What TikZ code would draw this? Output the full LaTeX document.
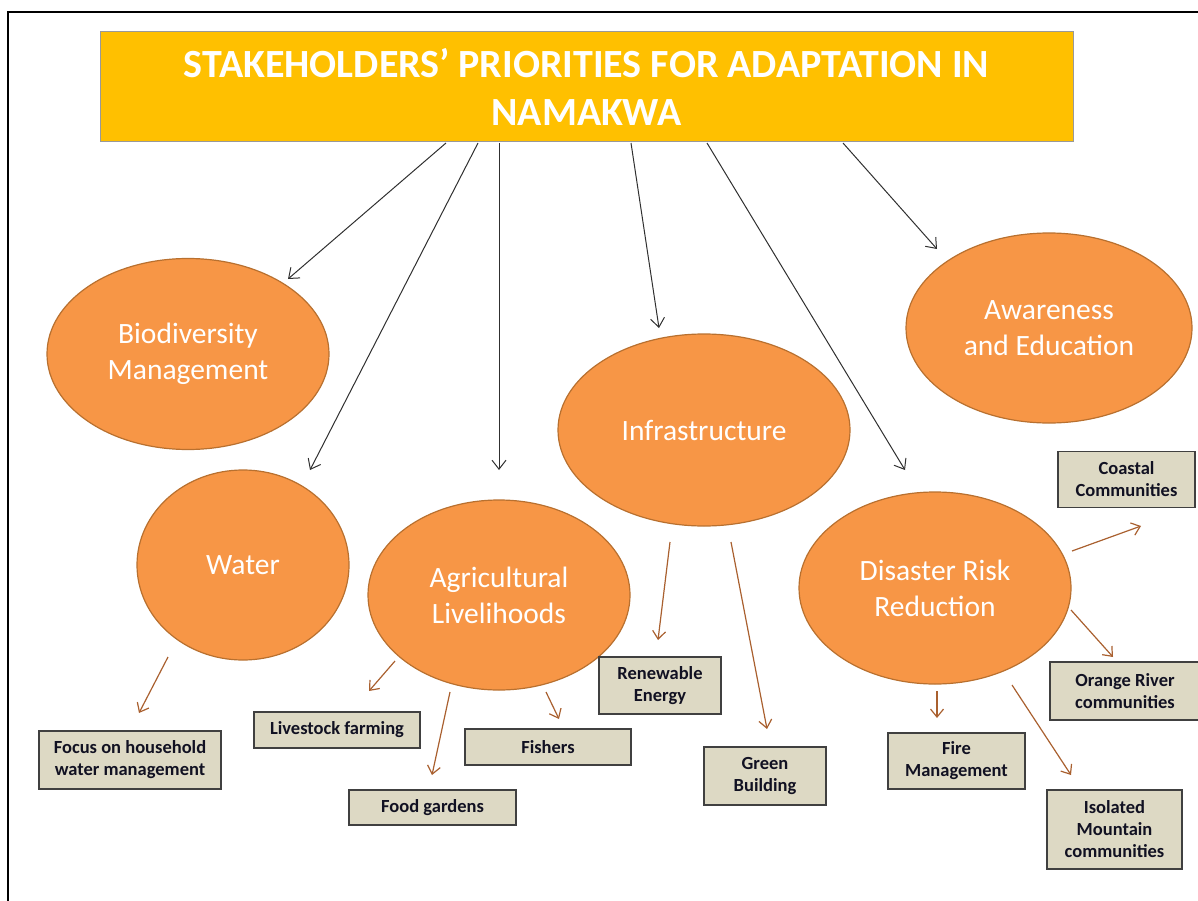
\documentclass[tikz,border=0pt]{standalone}
\usepackage{fontspec}
\setmainfont{Carlito}
\usetikzlibrary{arrows.meta,shapes.geometric}
\definecolor{titlefill}{HTML}{FFC000}
\definecolor{ellfill}{HTML}{F79646}
\definecolor{elldraw}{HTML}{B8702F}
\definecolor{boxfill}{HTML}{DDD9C4}
\definecolor{boxdraw}{HTML}{404040}
\definecolor{brownarrow}{HTML}{A9602F}
\definecolor{darkline}{HTML}{303030}
\definecolor{boxtext}{HTML}{111122}
\tikzset{
  titlebox/.style={draw=gray!80, line width=1pt, fill=titlefill, minimum width=973pt, minimum height=110pt, inner sep=0pt,
    font=\fontsize{40}{48}\selectfont\bfseries, text=white, align=center},
  topic/.style={ellipse, draw=elldraw, line width=1.2pt, fill=ellfill, inner sep=0pt,
    font=\fontsize{29.5}{36}\selectfont, text=white, align=center},
  leaf/.style={draw=boxdraw, line width=1.2pt, fill=boxfill, inner sep=0pt,
    font=\fontsize{18.5}{22}\selectfont\bfseries, text=boxtext, align=center},
  mainarrow/.style={draw=darkline, line width=1pt, -{Straight Barb[length=9pt,width=14pt,line width=1pt]}},
  subarrow/.style={draw=brownarrow, line width=1.2pt, -{Straight Barb[length=8pt,width=13pt,line width=1.2pt]}},
}
\begin{document}
\begin{tikzpicture}[x=1pt,y=-1pt]
\useasboundingbox (0,0) rectangle (1198,901);
% frame
\draw[line width=1.8pt] (8,901) -- (8,12) -- (1198,12);
% title
\node[titlebox] (title) at (586.5,87) {STAKEHOLDERS’ PRIORITIES FOR ADAPTATION IN\\NAMAKWA};
% topics
\node[topic, minimum width=282pt, minimum height=191pt] (bio) at (188,354) {Biodiversity\\Management};
\node[topic, minimum width=212pt, minimum height=190pt] (water) at (243,565) {Water};
\node[topic, minimum width=262pt, minimum height=190pt] (agri) at (499,595) {Agricultural\\Livelihoods};
\node[topic, minimum width=292pt, minimum height=192pt] (infra) at (704,430) {Infrastructure};
\node[topic, minimum width=286pt, minimum height=190pt] (aware) at (1049,328) {Awareness\\and Education};
\node[topic, minimum width=272pt, minimum height=192pt] (drr) at (935,588) {Disaster Risk\\Reduction};
% leaves
\node[leaf, minimum width=182pt, minimum height=58pt] (house) at (130,760) {Focus on household\\water management};
\node[leaf, minimum width=166pt, minimum height=36pt] (live) at (337,730) {Livestock farming};
\node[leaf, minimum width=167pt, minimum height=35pt] (food) at (432.5,807.5) {Food gardens};
\node[leaf, minimum width=166pt, minimum height=36pt] (fish) at (548,747) {Fishers};
\node[leaf, minimum width=122pt, minimum height=57pt] (renew) at (660,685.5) {Renewable\\Energy};
\node[leaf, minimum width=122pt, minimum height=58pt] (green) at (765,776) {Green\\Building};
\node[leaf, minimum width=137pt, minimum height=56pt] (fire) at (956.5,761) {Fire\\Management};
\node[leaf, minimum width=137pt, minimum height=56pt] (coast) at (1126.5,479.5) {Coastal\\Communities};
\node[leaf, minimum width=150pt, minimum height=58pt] (orange) at (1125,691) {Orange River\\communities};
\node[leaf, minimum width=135pt, minimum height=79pt] (iso) at (1114.5,829.5) {Isolated\\Mountain\\communities};
% arrow end points
\coordinate (t1) at (446,143); \coordinate (e1) at (288,279);
\coordinate (t2) at (478,143); \coordinate (e2) at (310,470);
\coordinate (t3) at (499,143); \coordinate (e3) at (499,470);
\coordinate (t4) at (631,143); \coordinate (e4) at (659,328);
\coordinate (t5) at (707,143); \coordinate (e5) at (905,470);
\coordinate (t6) at (843,143); \coordinate (e6) at (937,249);
\draw[mainarrow] (t1) -- (e1);
\draw[mainarrow] (t2) -- (e2);
\draw[mainarrow] (t3) -- (e3);
\draw[mainarrow] (t4) -- (e4);
\draw[mainarrow] (t5) -- (e5);
\draw[mainarrow] (t6) -- (e6);
% sub arrows
\coordinate (w1) at (168,657); \coordinate (w2) at (139,713);
\coordinate (a1) at (395,661); \coordinate (a2) at (369,691);
\coordinate (a3) at (450,692); \coordinate (a4) at (432,775);
\coordinate (a5) at (546,692); \coordinate (a6) at (559,719);
\coordinate (i1) at (670,542); \coordinate (i2) at (658,640);
\coordinate (i3) at (731,542); \coordinate (i4) at (767,729);
\coordinate (d1) at (937,691); \coordinate (d2) at (937,718);
\coordinate (d3) at (1012,685); \coordinate (d4) at (1071,775);
\coordinate (d5) at (1071,610); \coordinate (d6) at (1113,657);
\coordinate (d7) at (1072,551); \coordinate (d8) at (1141,526);
\draw[subarrow] (w1) -- (w2);
\draw[subarrow] (a1) -- (a2);
\draw[subarrow] (a3) -- (a4);
\draw[subarrow] (a5) -- (a6);
\draw[subarrow] (i1) -- (i2);
\draw[subarrow] (i3) -- (i4);
\draw[subarrow] (d1) -- (d2);
\draw[subarrow] (d3) -- (d4);
\draw[subarrow] (d5) -- (d6);
\draw[subarrow] (d7) -- (d8);
\end{tikzpicture}
\end{document}
